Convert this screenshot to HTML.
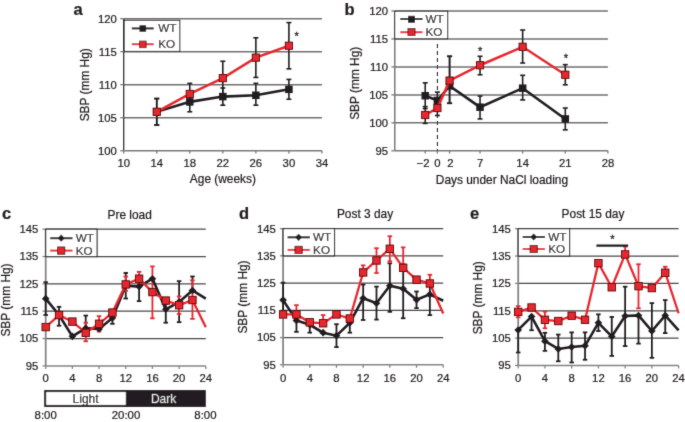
<!DOCTYPE html>
<html><head><meta charset="utf-8"><style>
html,body{margin:0;padding:0;background:#fff;}
svg{display:block;filter:none;}
text{font-family:"Liberation Sans", sans-serif;stroke:#231f20;stroke-width:0.22px;}
</style></head><body>
<svg width="685" height="422" viewBox="0 0 685 422">
<defs><filter id="bl" x="0" y="0" width="685" height="422" filterUnits="userSpaceOnUse"><feConvolveMatrix order="3" kernelMatrix="0.01134 0.08382 0.01134 0.08382 0.61935 0.08382 0.01134 0.08382 0.01134" divisor="1" edgeMode="duplicate" preserveAlpha="false"/></filter></defs>
<rect width="685" height="422" fill="#fff"/>
<g filter="url(#bl)">
<line x1="123.70" y1="117.72" x2="321.94" y2="117.72" stroke="#707070" stroke-width="1.5" />
<line x1="123.70" y1="84.70" x2="321.94" y2="84.70" stroke="#707070" stroke-width="1.5" />
<line x1="123.70" y1="51.67" x2="321.94" y2="51.67" stroke="#707070" stroke-width="1.5" />
<line x1="123.70" y1="18.65" x2="321.94" y2="18.65" stroke="#707070" stroke-width="1.5" />
<line x1="123.70" y1="18.65" x2="123.70" y2="150.75" stroke="#333333" stroke-width="1.3" />
<line x1="123.70" y1="150.75" x2="321.94" y2="150.75" stroke="#7a7a7a" stroke-width="1.3" />
<line x1="120.30" y1="150.75" x2="123.70" y2="150.75" stroke="#7a7a7a" stroke-width="1.3" />
<text x="116.80" y="154.65" font-size="11.3" text-anchor="end" fill="#231f20" font-weight="normal" >100</text>
<line x1="120.30" y1="117.72" x2="123.70" y2="117.72" stroke="#7a7a7a" stroke-width="1.3" />
<text x="116.80" y="121.62" font-size="11.3" text-anchor="end" fill="#231f20" font-weight="normal" >105</text>
<line x1="120.30" y1="84.70" x2="123.70" y2="84.70" stroke="#7a7a7a" stroke-width="1.3" />
<text x="116.80" y="88.60" font-size="11.3" text-anchor="end" fill="#231f20" font-weight="normal" >110</text>
<line x1="120.30" y1="51.67" x2="123.70" y2="51.67" stroke="#7a7a7a" stroke-width="1.3" />
<text x="116.80" y="55.57" font-size="11.3" text-anchor="end" fill="#231f20" font-weight="normal" >115</text>
<line x1="120.30" y1="18.65" x2="123.70" y2="18.65" stroke="#7a7a7a" stroke-width="1.3" />
<text x="116.80" y="22.55" font-size="11.3" text-anchor="end" fill="#231f20" font-weight="normal" >120</text>
<line x1="123.70" y1="150.75" x2="123.70" y2="153.55" stroke="#7a7a7a" stroke-width="1.3" />
<text x="123.70" y="166.80" font-size="11.3" text-anchor="middle" fill="#231f20" font-weight="normal" >10</text>
<line x1="156.74" y1="150.75" x2="156.74" y2="153.55" stroke="#7a7a7a" stroke-width="1.3" />
<text x="156.74" y="166.80" font-size="11.3" text-anchor="middle" fill="#231f20" font-weight="normal" >14</text>
<line x1="189.78" y1="150.75" x2="189.78" y2="153.55" stroke="#7a7a7a" stroke-width="1.3" />
<text x="189.78" y="166.80" font-size="11.3" text-anchor="middle" fill="#231f20" font-weight="normal" >18</text>
<line x1="222.82" y1="150.75" x2="222.82" y2="153.55" stroke="#7a7a7a" stroke-width="1.3" />
<text x="222.82" y="166.80" font-size="11.3" text-anchor="middle" fill="#231f20" font-weight="normal" >22</text>
<line x1="255.86" y1="150.75" x2="255.86" y2="153.55" stroke="#7a7a7a" stroke-width="1.3" />
<text x="255.86" y="166.80" font-size="11.3" text-anchor="middle" fill="#231f20" font-weight="normal" >26</text>
<line x1="288.90" y1="150.75" x2="288.90" y2="153.55" stroke="#7a7a7a" stroke-width="1.3" />
<text x="288.90" y="166.80" font-size="11.3" text-anchor="middle" fill="#231f20" font-weight="normal" >30</text>
<line x1="321.94" y1="150.75" x2="321.94" y2="153.55" stroke="#7a7a7a" stroke-width="1.3" />
<text x="321.94" y="166.80" font-size="11.3" text-anchor="middle" fill="#231f20" font-weight="normal" >34</text>
<rect x="124.2" y="20.3" width="55.6" height="31.1" fill="#fff" stroke="#231f20" stroke-width="1"/>
<line x1="131.80" y1="28.40" x2="153.70" y2="28.40" stroke="#231f20" stroke-width="2" />
<rect x="139.50" y="25.20" width="6.6" height="6.6" fill="#231f20" stroke="#231f20" stroke-width="0"/>
<line x1="131.80" y1="44.20" x2="153.70" y2="44.20" stroke="#e9282f" stroke-width="2" />
<rect x="139.50" y="41.10" width="6.6" height="6.6" fill="#e9282f" stroke="#4a0a0c" stroke-width="0.8"/>
<text x="158.20" y="31.90" font-size="11.7" text-anchor="start" fill="#231f20" font-weight="normal" >WT</text>
<text x="158.20" y="47.70" font-size="11.7" text-anchor="start" fill="#231f20" font-weight="normal" >KO</text>
<line x1="156.74" y1="98.57" x2="156.74" y2="124.99" stroke="#231f20" stroke-width="1.6" />
<line x1="154.24" y1="98.57" x2="159.24" y2="98.57" stroke="#231f20" stroke-width="1.6" />
<line x1="154.24" y1="124.99" x2="159.24" y2="124.99" stroke="#231f20" stroke-width="1.6" />
<line x1="189.78" y1="91.97" x2="189.78" y2="111.78" stroke="#231f20" stroke-width="1.6" />
<line x1="187.28" y1="91.97" x2="192.28" y2="91.97" stroke="#231f20" stroke-width="1.6" />
<line x1="187.28" y1="111.78" x2="192.28" y2="111.78" stroke="#231f20" stroke-width="1.6" />
<line x1="222.82" y1="88.00" x2="222.82" y2="105.18" stroke="#231f20" stroke-width="1.6" />
<line x1="220.32" y1="88.00" x2="225.32" y2="88.00" stroke="#231f20" stroke-width="1.6" />
<line x1="220.32" y1="105.18" x2="225.32" y2="105.18" stroke="#231f20" stroke-width="1.6" />
<line x1="255.86" y1="83.38" x2="255.86" y2="105.18" stroke="#231f20" stroke-width="1.6" />
<line x1="253.36" y1="83.38" x2="258.36" y2="83.38" stroke="#231f20" stroke-width="1.6" />
<line x1="253.36" y1="105.18" x2="258.36" y2="105.18" stroke="#231f20" stroke-width="1.6" />
<line x1="288.90" y1="79.42" x2="288.90" y2="99.23" stroke="#231f20" stroke-width="1.6" />
<line x1="286.40" y1="79.42" x2="291.40" y2="79.42" stroke="#231f20" stroke-width="1.6" />
<line x1="286.40" y1="99.23" x2="291.40" y2="99.23" stroke="#231f20" stroke-width="1.6" />
<line x1="156.74" y1="98.57" x2="156.74" y2="124.99" stroke="#231f20" stroke-width="1.6" />
<line x1="154.24" y1="98.57" x2="159.24" y2="98.57" stroke="#231f20" stroke-width="1.6" />
<line x1="154.24" y1="124.99" x2="159.24" y2="124.99" stroke="#231f20" stroke-width="1.6" />
<line x1="189.78" y1="83.38" x2="189.78" y2="104.52" stroke="#231f20" stroke-width="1.6" />
<line x1="187.28" y1="83.38" x2="192.28" y2="83.38" stroke="#231f20" stroke-width="1.6" />
<line x1="187.28" y1="104.52" x2="192.28" y2="104.52" stroke="#231f20" stroke-width="1.6" />
<line x1="222.82" y1="61.25" x2="222.82" y2="94.94" stroke="#231f20" stroke-width="1.6" />
<line x1="220.32" y1="61.25" x2="225.32" y2="61.25" stroke="#231f20" stroke-width="1.6" />
<line x1="220.32" y1="94.94" x2="225.32" y2="94.94" stroke="#231f20" stroke-width="1.6" />
<line x1="255.86" y1="37.80" x2="255.86" y2="77.43" stroke="#231f20" stroke-width="1.6" />
<line x1="253.36" y1="37.80" x2="258.36" y2="37.80" stroke="#231f20" stroke-width="1.6" />
<line x1="253.36" y1="77.43" x2="258.36" y2="77.43" stroke="#231f20" stroke-width="1.6" />
<line x1="288.90" y1="22.61" x2="288.90" y2="68.85" stroke="#231f20" stroke-width="1.6" />
<line x1="286.40" y1="22.61" x2="291.40" y2="22.61" stroke="#231f20" stroke-width="1.6" />
<line x1="286.40" y1="68.85" x2="291.40" y2="68.85" stroke="#231f20" stroke-width="1.6" />
<polyline points="156.74,111.78 189.78,101.87 222.82,96.59 255.86,95.27 288.90,89.32" fill="none" stroke="#231f20" stroke-width="2.6" stroke-linejoin="miter"/>
<rect x="152.99" y="108.03" width="7.5" height="7.5" fill="#231f20" stroke="#231f20" stroke-width="0"/>
<rect x="186.03" y="98.12" width="7.5" height="7.5" fill="#231f20" stroke="#231f20" stroke-width="0"/>
<rect x="219.07" y="92.84" width="7.5" height="7.5" fill="#231f20" stroke="#231f20" stroke-width="0"/>
<rect x="252.11" y="91.52" width="7.5" height="7.5" fill="#231f20" stroke="#231f20" stroke-width="0"/>
<rect x="285.15" y="85.57" width="7.5" height="7.5" fill="#231f20" stroke="#231f20" stroke-width="0"/>
<polyline points="156.74,111.78 189.78,93.95 222.82,78.09 255.86,57.62 288.90,45.73" fill="none" stroke="#e9282f" stroke-width="2.5" stroke-linejoin="miter"/>
<rect x="153.14" y="108.18" width="7.2" height="7.2" fill="#e9282f" stroke="#4a0a0c" stroke-width="0.9"/>
<rect x="186.18" y="90.35" width="7.2" height="7.2" fill="#e9282f" stroke="#4a0a0c" stroke-width="0.9"/>
<rect x="219.22" y="74.50" width="7.2" height="7.2" fill="#e9282f" stroke="#4a0a0c" stroke-width="0.9"/>
<rect x="252.26" y="54.02" width="7.2" height="7.2" fill="#e9282f" stroke="#4a0a0c" stroke-width="0.9"/>
<rect x="285.30" y="42.13" width="7.2" height="7.2" fill="#e9282f" stroke="#4a0a0c" stroke-width="0.9"/>
<text x="296.60" y="40.14" font-size="11" text-anchor="middle" fill="#231f20" font-weight="normal" style="stroke-width:0.3px">*</text>
<text x="222.90" y="183.40" font-size="11.9" text-anchor="middle" fill="#231f20" font-weight="normal" >Age (weeks)</text>
<text transform="translate(89.4 84.8) rotate(-90)" font-size="11.9" text-anchor="middle" fill="#231f20">SBP (mm Hg)</text>
<text x="73.60" y="14.60" font-size="16.5" text-anchor="start" fill="#231f20" font-weight="bold" >a</text>
<line x1="394.77" y1="122.84" x2="607.92" y2="122.84" stroke="#707070" stroke-width="1.5" />
<line x1="394.77" y1="94.88" x2="607.92" y2="94.88" stroke="#707070" stroke-width="1.5" />
<line x1="394.77" y1="66.92" x2="607.92" y2="66.92" stroke="#707070" stroke-width="1.5" />
<line x1="394.77" y1="38.96" x2="607.92" y2="38.96" stroke="#707070" stroke-width="1.5" />
<line x1="394.77" y1="11.00" x2="607.92" y2="11.00" stroke="#707070" stroke-width="1.5" />
<line x1="394.77" y1="11.00" x2="394.77" y2="150.80" stroke="#7a7a7a" stroke-width="1.5" />
<line x1="394.77" y1="150.80" x2="607.92" y2="150.80" stroke="#7a7a7a" stroke-width="1.5" />
<line x1="391.37" y1="150.80" x2="394.77" y2="150.80" stroke="#7a7a7a" stroke-width="1.3" />
<text x="388.00" y="154.70" font-size="11.3" text-anchor="end" fill="#231f20" font-weight="normal" >95</text>
<line x1="391.37" y1="122.84" x2="394.77" y2="122.84" stroke="#7a7a7a" stroke-width="1.3" />
<text x="388.00" y="126.74" font-size="11.3" text-anchor="end" fill="#231f20" font-weight="normal" >100</text>
<line x1="391.37" y1="94.88" x2="394.77" y2="94.88" stroke="#7a7a7a" stroke-width="1.3" />
<text x="388.00" y="98.78" font-size="11.3" text-anchor="end" fill="#231f20" font-weight="normal" >105</text>
<line x1="391.37" y1="66.92" x2="394.77" y2="66.92" stroke="#7a7a7a" stroke-width="1.3" />
<text x="388.00" y="70.82" font-size="11.3" text-anchor="end" fill="#231f20" font-weight="normal" >110</text>
<line x1="391.37" y1="38.96" x2="394.77" y2="38.96" stroke="#7a7a7a" stroke-width="1.3" />
<text x="388.00" y="42.86" font-size="11.3" text-anchor="end" fill="#231f20" font-weight="normal" >115</text>
<line x1="391.37" y1="11.00" x2="394.77" y2="11.00" stroke="#7a7a7a" stroke-width="1.3" />
<text x="388.00" y="14.90" font-size="11.3" text-anchor="end" fill="#231f20" font-weight="normal" >120</text>
<line x1="425.22" y1="150.80" x2="425.22" y2="153.60" stroke="#7a7a7a" stroke-width="1.3" />
<text x="423.02" y="166.80" font-size="11.3" text-anchor="middle" fill="#231f20" font-weight="normal" >&#8722;2</text>
<line x1="437.40" y1="150.80" x2="437.40" y2="153.60" stroke="#7a7a7a" stroke-width="1.3" />
<text x="437.40" y="166.80" font-size="11.3" text-anchor="middle" fill="#231f20" font-weight="normal" >0</text>
<line x1="449.58" y1="150.80" x2="449.58" y2="153.60" stroke="#7a7a7a" stroke-width="1.3" />
<text x="450.38" y="166.80" font-size="11.3" text-anchor="middle" fill="#231f20" font-weight="normal" >2</text>
<line x1="480.03" y1="150.80" x2="480.03" y2="153.60" stroke="#7a7a7a" stroke-width="1.3" />
<text x="480.03" y="166.80" font-size="11.3" text-anchor="middle" fill="#231f20" font-weight="normal" >7</text>
<line x1="522.66" y1="150.80" x2="522.66" y2="153.60" stroke="#7a7a7a" stroke-width="1.3" />
<text x="522.66" y="166.80" font-size="11.3" text-anchor="middle" fill="#231f20" font-weight="normal" >14</text>
<line x1="565.29" y1="150.80" x2="565.29" y2="153.60" stroke="#7a7a7a" stroke-width="1.3" />
<text x="565.29" y="166.80" font-size="11.3" text-anchor="middle" fill="#231f20" font-weight="normal" >21</text>
<line x1="607.92" y1="150.80" x2="607.92" y2="153.60" stroke="#7a7a7a" stroke-width="1.3" />
<text x="607.92" y="166.80" font-size="11.3" text-anchor="middle" fill="#231f20" font-weight="normal" >28</text>
<line x1="437.40" y1="44.00" x2="437.40" y2="150.80" stroke="#231f20" stroke-width="1" stroke-dasharray="4 3"/>
<rect x="394.7" y="11.2" width="53.0" height="27.6" fill="#fff" stroke="#231f20" stroke-width="1"/>
<line x1="400.30" y1="19.00" x2="422.50" y2="19.00" stroke="#231f20" stroke-width="2" />
<rect x="408.00" y="15.80" width="7.0" height="7.0" fill="#231f20" stroke="#231f20" stroke-width="0"/>
<line x1="400.30" y1="32.20" x2="422.50" y2="32.20" stroke="#e9282f" stroke-width="2" />
<rect x="408.00" y="28.50" width="7.0" height="7.0" fill="#e9282f" stroke="#4a0a0c" stroke-width="0.9"/>
<text x="425.50" y="22.80" font-size="11.7" text-anchor="start" fill="#231f20" font-weight="normal" >WT</text>
<text x="425.50" y="36.20" font-size="11.7" text-anchor="start" fill="#231f20" font-weight="normal" >KO</text>
<line x1="425.22" y1="82.86" x2="425.22" y2="108.58" stroke="#231f20" stroke-width="1.6" />
<line x1="422.72" y1="82.86" x2="427.72" y2="82.86" stroke="#231f20" stroke-width="1.6" />
<line x1="422.72" y1="108.58" x2="427.72" y2="108.58" stroke="#231f20" stroke-width="1.6" />
<line x1="437.40" y1="92.08" x2="437.40" y2="108.86" stroke="#231f20" stroke-width="1.6" />
<line x1="434.90" y1="92.08" x2="439.90" y2="92.08" stroke="#231f20" stroke-width="1.6" />
<line x1="434.90" y1="108.86" x2="439.90" y2="108.86" stroke="#231f20" stroke-width="1.6" />
<line x1="449.58" y1="56.30" x2="449.58" y2="103.27" stroke="#231f20" stroke-width="1.6" />
<line x1="447.08" y1="56.30" x2="452.08" y2="56.30" stroke="#231f20" stroke-width="1.6" />
<line x1="447.08" y1="103.27" x2="452.08" y2="103.27" stroke="#231f20" stroke-width="1.6" />
<line x1="480.03" y1="96.00" x2="480.03" y2="118.93" stroke="#231f20" stroke-width="1.6" />
<line x1="477.53" y1="96.00" x2="482.53" y2="96.00" stroke="#231f20" stroke-width="1.6" />
<line x1="477.53" y1="118.93" x2="482.53" y2="118.93" stroke="#231f20" stroke-width="1.6" />
<line x1="522.66" y1="75.31" x2="522.66" y2="99.91" stroke="#231f20" stroke-width="1.6" />
<line x1="520.16" y1="75.31" x2="525.16" y2="75.31" stroke="#231f20" stroke-width="1.6" />
<line x1="520.16" y1="99.91" x2="525.16" y2="99.91" stroke="#231f20" stroke-width="1.6" />
<line x1="565.29" y1="108.02" x2="565.29" y2="129.83" stroke="#231f20" stroke-width="1.6" />
<line x1="562.79" y1="108.02" x2="567.79" y2="108.02" stroke="#231f20" stroke-width="1.6" />
<line x1="562.79" y1="129.83" x2="567.79" y2="129.83" stroke="#231f20" stroke-width="1.6" />
<line x1="425.22" y1="106.62" x2="425.22" y2="123.40" stroke="#231f20" stroke-width="1.6" />
<line x1="422.72" y1="106.62" x2="427.72" y2="106.62" stroke="#231f20" stroke-width="1.6" />
<line x1="422.72" y1="123.40" x2="427.72" y2="123.40" stroke="#231f20" stroke-width="1.6" />
<line x1="437.40" y1="100.19" x2="437.40" y2="115.51" stroke="#231f20" stroke-width="1.6" />
<line x1="434.90" y1="100.19" x2="439.90" y2="100.19" stroke="#231f20" stroke-width="1.6" />
<line x1="434.90" y1="115.51" x2="439.90" y2="115.51" stroke="#231f20" stroke-width="1.6" />
<line x1="449.58" y1="56.30" x2="449.58" y2="103.27" stroke="#231f20" stroke-width="1.6" />
<line x1="447.08" y1="56.30" x2="452.08" y2="56.30" stroke="#231f20" stroke-width="1.6" />
<line x1="447.08" y1="103.27" x2="452.08" y2="103.27" stroke="#231f20" stroke-width="1.6" />
<line x1="480.03" y1="56.30" x2="480.03" y2="74.75" stroke="#231f20" stroke-width="1.6" />
<line x1="477.53" y1="56.30" x2="482.53" y2="56.30" stroke="#231f20" stroke-width="1.6" />
<line x1="477.53" y1="74.75" x2="482.53" y2="74.75" stroke="#231f20" stroke-width="1.6" />
<line x1="522.66" y1="30.01" x2="522.66" y2="63.01" stroke="#231f20" stroke-width="1.6" />
<line x1="520.16" y1="30.01" x2="525.16" y2="30.01" stroke="#231f20" stroke-width="1.6" />
<line x1="520.16" y1="63.01" x2="525.16" y2="63.01" stroke="#231f20" stroke-width="1.6" />
<line x1="565.29" y1="64.68" x2="565.29" y2="84.81" stroke="#231f20" stroke-width="1.6" />
<line x1="562.79" y1="64.68" x2="567.79" y2="64.68" stroke="#231f20" stroke-width="1.6" />
<line x1="562.79" y1="84.81" x2="567.79" y2="84.81" stroke="#231f20" stroke-width="1.6" />
<polyline points="425.22,95.72 437.40,100.47 449.58,85.93 480.03,107.18 522.66,88.17 565.29,118.93" fill="none" stroke="#231f20" stroke-width="2.6" stroke-linejoin="miter"/>
<rect x="421.47" y="91.97" width="7.5" height="7.5" fill="#231f20" stroke="#231f20" stroke-width="0"/>
<rect x="433.65" y="96.72" width="7.5" height="7.5" fill="#231f20" stroke="#231f20" stroke-width="0"/>
<rect x="445.83" y="82.18" width="7.5" height="7.5" fill="#231f20" stroke="#231f20" stroke-width="0"/>
<rect x="476.28" y="103.43" width="7.5" height="7.5" fill="#231f20" stroke="#231f20" stroke-width="0"/>
<rect x="518.91" y="84.42" width="7.5" height="7.5" fill="#231f20" stroke="#231f20" stroke-width="0"/>
<rect x="561.54" y="115.18" width="7.5" height="7.5" fill="#231f20" stroke="#231f20" stroke-width="0"/>
<polyline points="425.22,115.01 437.40,108.02 449.58,80.62 480.03,65.24 522.66,46.79 565.29,74.75" fill="none" stroke="#e9282f" stroke-width="2.5" stroke-linejoin="miter"/>
<rect x="421.62" y="111.41" width="7.2" height="7.2" fill="#e9282f" stroke="#4a0a0c" stroke-width="0.9"/>
<rect x="433.80" y="104.42" width="7.2" height="7.2" fill="#e9282f" stroke="#4a0a0c" stroke-width="0.9"/>
<rect x="445.98" y="77.02" width="7.2" height="7.2" fill="#e9282f" stroke="#4a0a0c" stroke-width="0.9"/>
<rect x="476.43" y="61.64" width="7.2" height="7.2" fill="#e9282f" stroke="#4a0a0c" stroke-width="0.9"/>
<rect x="519.06" y="43.19" width="7.2" height="7.2" fill="#e9282f" stroke="#4a0a0c" stroke-width="0.9"/>
<rect x="561.69" y="71.15" width="7.2" height="7.2" fill="#e9282f" stroke="#4a0a0c" stroke-width="0.9"/>
<text x="480.20" y="54.64" font-size="11" text-anchor="middle" fill="#231f20" font-weight="normal" style="stroke-width:0.3px">*</text>
<text x="565.90" y="61.54" font-size="11" text-anchor="middle" fill="#231f20" font-weight="normal" style="stroke-width:0.3px">*</text>
<text x="501.94" y="183.50" font-size="11.9" text-anchor="middle" fill="#231f20" font-weight="normal" >Days under NaCl loading</text>
<text transform="translate(358.6 83.3) rotate(-90)" font-size="11.9" text-anchor="middle" fill="#231f20">SBP (mm Hg)</text>
<text x="344.60" y="14.60" font-size="16.5" text-anchor="start" fill="#231f20" font-weight="bold" >b</text>
<line x1="45.70" y1="338.56" x2="205.80" y2="338.56" stroke="#4a4a4a" stroke-width="1.2" />
<line x1="45.70" y1="311.22" x2="205.80" y2="311.22" stroke="#4a4a4a" stroke-width="1.2" />
<line x1="45.70" y1="283.88" x2="205.80" y2="283.88" stroke="#4a4a4a" stroke-width="1.2" />
<line x1="45.70" y1="256.54" x2="205.80" y2="256.54" stroke="#4a4a4a" stroke-width="1.2" />
<line x1="45.70" y1="229.20" x2="205.80" y2="229.20" stroke="#4a4a4a" stroke-width="1.2" />
<line x1="45.70" y1="229.20" x2="45.70" y2="365.90" stroke="#858585" stroke-width="1.8" />
<line x1="45.70" y1="365.90" x2="205.80" y2="365.90" stroke="#858585" stroke-width="1.5" />
<line x1="42.50" y1="365.90" x2="45.70" y2="365.90" stroke="#858585" stroke-width="1.3" />
<text x="38.40" y="369.80" font-size="11.3" text-anchor="end" fill="#231f20" font-weight="normal" >95</text>
<line x1="42.50" y1="338.56" x2="45.70" y2="338.56" stroke="#858585" stroke-width="1.3" />
<text x="38.40" y="342.46" font-size="11.3" text-anchor="end" fill="#231f20" font-weight="normal" >105</text>
<line x1="42.50" y1="311.22" x2="45.70" y2="311.22" stroke="#858585" stroke-width="1.3" />
<text x="38.40" y="315.12" font-size="11.3" text-anchor="end" fill="#231f20" font-weight="normal" >115</text>
<line x1="42.50" y1="283.88" x2="45.70" y2="283.88" stroke="#858585" stroke-width="1.3" />
<text x="38.40" y="287.78" font-size="11.3" text-anchor="end" fill="#231f20" font-weight="normal" >125</text>
<line x1="42.50" y1="256.54" x2="45.70" y2="256.54" stroke="#858585" stroke-width="1.3" />
<text x="38.40" y="260.44" font-size="11.3" text-anchor="end" fill="#231f20" font-weight="normal" >135</text>
<line x1="42.50" y1="229.20" x2="45.70" y2="229.20" stroke="#858585" stroke-width="1.3" />
<text x="38.40" y="233.10" font-size="11.3" text-anchor="end" fill="#231f20" font-weight="normal" >145</text>
<line x1="45.70" y1="365.90" x2="45.70" y2="368.90" stroke="#858585" stroke-width="1.3" />
<text x="45.70" y="381.50" font-size="11.3" text-anchor="middle" fill="#231f20" font-weight="normal" >0</text>
<line x1="72.38" y1="365.90" x2="72.38" y2="368.90" stroke="#858585" stroke-width="1.3" />
<text x="72.38" y="381.50" font-size="11.3" text-anchor="middle" fill="#231f20" font-weight="normal" >4</text>
<line x1="99.07" y1="365.90" x2="99.07" y2="368.90" stroke="#858585" stroke-width="1.3" />
<text x="99.07" y="381.50" font-size="11.3" text-anchor="middle" fill="#231f20" font-weight="normal" >8</text>
<line x1="125.75" y1="365.90" x2="125.75" y2="368.90" stroke="#858585" stroke-width="1.3" />
<text x="125.75" y="381.50" font-size="11.3" text-anchor="middle" fill="#231f20" font-weight="normal" >12</text>
<line x1="152.43" y1="365.90" x2="152.43" y2="368.90" stroke="#858585" stroke-width="1.3" />
<text x="152.43" y="381.50" font-size="11.3" text-anchor="middle" fill="#231f20" font-weight="normal" >16</text>
<line x1="179.12" y1="365.90" x2="179.12" y2="368.90" stroke="#858585" stroke-width="1.3" />
<text x="179.12" y="381.50" font-size="11.3" text-anchor="middle" fill="#231f20" font-weight="normal" >20</text>
<line x1="205.80" y1="365.90" x2="205.80" y2="368.90" stroke="#858585" stroke-width="1.3" />
<text x="205.80" y="381.50" font-size="11.3" text-anchor="middle" fill="#231f20" font-weight="normal" >24</text>
<rect x="45.70" y="229.20" width="51.4" height="27.34" fill="#fff" stroke="#231f20" stroke-width="1.1"/>
<line x1="50.20" y1="238.20" x2="72.50" y2="238.20" stroke="#231f20" stroke-width="2" />
<path d="M57.60 238.20L61.20 234.60L64.80 238.20L61.20 241.80Z" fill="#231f20"/>
<line x1="50.20" y1="250.60" x2="72.50" y2="250.60" stroke="#e9282f" stroke-width="2" />
<rect x="57.60" y="247.00" width="7.2" height="7.2" fill="#e9282f" stroke="#4a0a0c" stroke-width="0.9"/>
<text x="75.70" y="242.20" font-size="11.7" text-anchor="start" fill="#231f20" font-weight="normal" >WT</text>
<text x="75.70" y="254.50" font-size="11.7" text-anchor="start" fill="#231f20" font-weight="normal" >KO</text>
<line x1="45.70" y1="282.24" x2="45.70" y2="315.05" stroke="#231f20" stroke-width="1.8" />
<line x1="43.45" y1="282.24" x2="47.95" y2="282.24" stroke="#231f20" stroke-width="1.8" />
<line x1="43.45" y1="315.05" x2="47.95" y2="315.05" stroke="#231f20" stroke-width="1.8" />
<line x1="59.04" y1="306.85" x2="59.04" y2="325.71" stroke="#231f20" stroke-width="1.8" />
<line x1="56.79" y1="306.85" x2="61.29" y2="306.85" stroke="#231f20" stroke-width="1.8" />
<line x1="56.79" y1="325.71" x2="61.29" y2="325.71" stroke="#231f20" stroke-width="1.8" />
<line x1="85.73" y1="315.59" x2="85.73" y2="328.17" stroke="#231f20" stroke-width="1.8" />
<line x1="83.48" y1="315.59" x2="87.98" y2="315.59" stroke="#231f20" stroke-width="1.8" />
<line x1="83.48" y1="328.17" x2="87.98" y2="328.17" stroke="#231f20" stroke-width="1.8" />
<line x1="112.41" y1="318.05" x2="112.41" y2="323.80" stroke="#231f20" stroke-width="1.8" />
<line x1="110.16" y1="318.05" x2="114.66" y2="318.05" stroke="#231f20" stroke-width="1.8" />
<line x1="110.16" y1="323.80" x2="114.66" y2="323.80" stroke="#231f20" stroke-width="1.8" />
<line x1="125.75" y1="272.94" x2="125.75" y2="298.51" stroke="#231f20" stroke-width="1.8" />
<line x1="123.50" y1="272.94" x2="128.00" y2="272.94" stroke="#231f20" stroke-width="1.8" />
<line x1="123.50" y1="298.51" x2="128.00" y2="298.51" stroke="#231f20" stroke-width="1.8" />
<line x1="139.09" y1="278.41" x2="139.09" y2="301.10" stroke="#231f20" stroke-width="1.8" />
<line x1="136.84" y1="278.41" x2="141.34" y2="278.41" stroke="#231f20" stroke-width="1.8" />
<line x1="136.84" y1="301.10" x2="141.34" y2="301.10" stroke="#231f20" stroke-width="1.8" />
<line x1="165.78" y1="303.84" x2="165.78" y2="322.70" stroke="#231f20" stroke-width="1.8" />
<line x1="163.53" y1="303.84" x2="168.03" y2="303.84" stroke="#231f20" stroke-width="1.8" />
<line x1="163.53" y1="322.70" x2="168.03" y2="322.70" stroke="#231f20" stroke-width="1.8" />
<line x1="179.12" y1="281.15" x2="179.12" y2="322.16" stroke="#231f20" stroke-width="1.8" />
<line x1="176.87" y1="281.15" x2="181.37" y2="281.15" stroke="#231f20" stroke-width="1.8" />
<line x1="176.87" y1="322.16" x2="181.37" y2="322.16" stroke="#231f20" stroke-width="1.8" />
<line x1="192.46" y1="276.50" x2="192.46" y2="290.44" stroke="#231f20" stroke-width="1.8" />
<line x1="190.21" y1="276.50" x2="194.71" y2="276.50" stroke="#231f20" stroke-width="1.8" />
<line x1="190.21" y1="290.44" x2="194.71" y2="290.44" stroke="#231f20" stroke-width="1.8" />
<line x1="85.73" y1="322.70" x2="85.73" y2="341.29" stroke="#e9282f" stroke-width="1.8" />
<line x1="83.48" y1="322.70" x2="87.98" y2="322.70" stroke="#e9282f" stroke-width="1.8" />
<line x1="83.48" y1="341.29" x2="87.98" y2="341.29" stroke="#e9282f" stroke-width="1.8" />
<line x1="99.07" y1="316.14" x2="99.07" y2="331.45" stroke="#e9282f" stroke-width="1.8" />
<line x1="96.82" y1="316.14" x2="101.32" y2="316.14" stroke="#e9282f" stroke-width="1.8" />
<line x1="96.82" y1="331.45" x2="101.32" y2="331.45" stroke="#e9282f" stroke-width="1.8" />
<line x1="125.75" y1="276.50" x2="125.75" y2="290.71" stroke="#e9282f" stroke-width="1.8" />
<line x1="123.50" y1="276.50" x2="128.00" y2="276.50" stroke="#e9282f" stroke-width="1.8" />
<line x1="123.50" y1="290.71" x2="128.00" y2="290.71" stroke="#e9282f" stroke-width="1.8" />
<line x1="139.09" y1="271.85" x2="139.09" y2="284.15" stroke="#e9282f" stroke-width="1.8" />
<line x1="136.84" y1="271.85" x2="141.34" y2="271.85" stroke="#e9282f" stroke-width="1.8" />
<line x1="136.84" y1="284.15" x2="141.34" y2="284.15" stroke="#e9282f" stroke-width="1.8" />
<line x1="152.43" y1="266.38" x2="152.43" y2="318.33" stroke="#e9282f" stroke-width="1.8" />
<line x1="150.18" y1="266.38" x2="154.68" y2="266.38" stroke="#e9282f" stroke-width="1.8" />
<line x1="150.18" y1="318.33" x2="154.68" y2="318.33" stroke="#e9282f" stroke-width="1.8" />
<line x1="179.12" y1="296.46" x2="179.12" y2="313.95" stroke="#e9282f" stroke-width="1.8" />
<line x1="176.87" y1="296.46" x2="181.37" y2="296.46" stroke="#e9282f" stroke-width="1.8" />
<line x1="176.87" y1="313.95" x2="181.37" y2="313.95" stroke="#e9282f" stroke-width="1.8" />
<line x1="192.46" y1="280.33" x2="192.46" y2="318.88" stroke="#e9282f" stroke-width="1.8" />
<line x1="190.21" y1="280.33" x2="194.71" y2="280.33" stroke="#e9282f" stroke-width="1.8" />
<line x1="190.21" y1="318.88" x2="194.71" y2="318.88" stroke="#e9282f" stroke-width="1.8" />
<polyline points="45.70,298.64 59.04,315.05 72.38,336.37 85.73,328.17 99.07,328.99 112.41,318.05 125.75,285.79 139.09,286.61 152.43,278.69 165.78,309.31 179.12,301.92 192.46,290.44 205.80,298.64" fill="none" stroke="#231f20" stroke-width="2.6" stroke-linejoin="miter"/>
<path d="M41.90 298.64L45.70 294.84L49.50 298.64L45.70 302.44Z" fill="#231f20"/>
<path d="M55.24 315.05L59.04 311.25L62.84 315.05L59.04 318.85Z" fill="#231f20"/>
<path d="M68.58 336.37L72.38 332.57L76.18 336.37L72.38 340.17Z" fill="#231f20"/>
<path d="M81.93 328.17L85.73 324.37L89.53 328.17L85.73 331.97Z" fill="#231f20"/>
<path d="M95.27 328.99L99.07 325.19L102.87 328.99L99.07 332.79Z" fill="#231f20"/>
<path d="M108.61 318.05L112.41 314.25L116.21 318.05L112.41 321.85Z" fill="#231f20"/>
<path d="M121.95 285.79L125.75 281.99L129.55 285.79L125.75 289.59Z" fill="#231f20"/>
<path d="M135.29 286.61L139.09 282.81L142.89 286.61L139.09 290.41Z" fill="#231f20"/>
<path d="M148.63 278.69L152.43 274.89L156.23 278.69L152.43 282.49Z" fill="#231f20"/>
<path d="M161.97 309.31L165.78 305.51L169.58 309.31L165.78 313.11Z" fill="#231f20"/>
<path d="M175.32 301.92L179.12 298.12L182.92 301.92L179.12 305.72Z" fill="#231f20"/>
<path d="M188.66 290.44L192.46 286.64L196.26 290.44L192.46 294.24Z" fill="#231f20"/>
<polyline points="45.70,327.08 59.04,315.05 72.38,321.61 85.73,332.82 99.07,323.80 112.41,312.59 125.75,284.43 139.09,278.69 152.43,292.08 165.78,300.56 179.12,305.21 192.46,300.01 205.80,327.35" fill="none" stroke="#e9282f" stroke-width="2.3" stroke-linejoin="miter"/>
<rect x="42.00" y="323.38" width="7.4" height="7.4" fill="#e9282f" stroke="#4a0a0c" stroke-width="0.9"/>
<rect x="55.34" y="311.35" width="7.4" height="7.4" fill="#e9282f" stroke="#4a0a0c" stroke-width="0.9"/>
<rect x="68.68" y="317.91" width="7.4" height="7.4" fill="#e9282f" stroke="#4a0a0c" stroke-width="0.9"/>
<rect x="82.03" y="329.12" width="7.4" height="7.4" fill="#e9282f" stroke="#4a0a0c" stroke-width="0.9"/>
<rect x="95.37" y="320.10" width="7.4" height="7.4" fill="#e9282f" stroke="#4a0a0c" stroke-width="0.9"/>
<rect x="108.71" y="308.89" width="7.4" height="7.4" fill="#e9282f" stroke="#4a0a0c" stroke-width="0.9"/>
<rect x="122.05" y="280.73" width="7.4" height="7.4" fill="#e9282f" stroke="#4a0a0c" stroke-width="0.9"/>
<rect x="135.39" y="274.99" width="7.4" height="7.4" fill="#e9282f" stroke="#4a0a0c" stroke-width="0.9"/>
<rect x="148.73" y="288.38" width="7.4" height="7.4" fill="#e9282f" stroke="#4a0a0c" stroke-width="0.9"/>
<rect x="162.08" y="296.86" width="7.4" height="7.4" fill="#e9282f" stroke="#4a0a0c" stroke-width="0.9"/>
<rect x="175.42" y="301.51" width="7.4" height="7.4" fill="#e9282f" stroke="#4a0a0c" stroke-width="0.9"/>
<rect x="188.76" y="296.31" width="7.4" height="7.4" fill="#e9282f" stroke="#4a0a0c" stroke-width="0.9"/>
<text x="129.70" y="219.00" font-size="11.9" text-anchor="middle" fill="#231f20" font-weight="normal" >Pre load</text>
<text transform="translate(9.70 300.00) rotate(-90)" font-size="11.9" text-anchor="middle" fill="#231f20">SBP (mm Hg)</text>
<text x="2.00" y="218.60" font-size="16.5" text-anchor="start" fill="#231f20" font-weight="bold" >c</text>
<line x1="283.10" y1="337.56" x2="443.20" y2="337.56" stroke="#4a4a4a" stroke-width="1.2" />
<line x1="283.10" y1="310.32" x2="443.20" y2="310.32" stroke="#4a4a4a" stroke-width="1.2" />
<line x1="283.10" y1="283.08" x2="443.20" y2="283.08" stroke="#4a4a4a" stroke-width="1.2" />
<line x1="283.10" y1="255.84" x2="443.20" y2="255.84" stroke="#4a4a4a" stroke-width="1.2" />
<line x1="283.10" y1="228.60" x2="443.20" y2="228.60" stroke="#4a4a4a" stroke-width="1.2" />
<line x1="283.10" y1="228.60" x2="283.10" y2="364.80" stroke="#858585" stroke-width="1.8" />
<line x1="283.10" y1="364.80" x2="443.20" y2="364.80" stroke="#858585" stroke-width="1.5" />
<line x1="279.90" y1="364.80" x2="283.10" y2="364.80" stroke="#858585" stroke-width="1.3" />
<text x="275.80" y="368.70" font-size="11.3" text-anchor="end" fill="#231f20" font-weight="normal" >95</text>
<line x1="279.90" y1="337.56" x2="283.10" y2="337.56" stroke="#858585" stroke-width="1.3" />
<text x="275.80" y="341.46" font-size="11.3" text-anchor="end" fill="#231f20" font-weight="normal" >105</text>
<line x1="279.90" y1="310.32" x2="283.10" y2="310.32" stroke="#858585" stroke-width="1.3" />
<text x="275.80" y="314.22" font-size="11.3" text-anchor="end" fill="#231f20" font-weight="normal" >115</text>
<line x1="279.90" y1="283.08" x2="283.10" y2="283.08" stroke="#858585" stroke-width="1.3" />
<text x="275.80" y="286.98" font-size="11.3" text-anchor="end" fill="#231f20" font-weight="normal" >125</text>
<line x1="279.90" y1="255.84" x2="283.10" y2="255.84" stroke="#858585" stroke-width="1.3" />
<text x="275.80" y="259.74" font-size="11.3" text-anchor="end" fill="#231f20" font-weight="normal" >135</text>
<line x1="279.90" y1="228.60" x2="283.10" y2="228.60" stroke="#858585" stroke-width="1.3" />
<text x="275.80" y="232.50" font-size="11.3" text-anchor="end" fill="#231f20" font-weight="normal" >145</text>
<line x1="283.10" y1="364.80" x2="283.10" y2="367.80" stroke="#858585" stroke-width="1.3" />
<text x="283.10" y="381.50" font-size="11.3" text-anchor="middle" fill="#231f20" font-weight="normal" >0</text>
<line x1="309.78" y1="364.80" x2="309.78" y2="367.80" stroke="#858585" stroke-width="1.3" />
<text x="309.78" y="381.50" font-size="11.3" text-anchor="middle" fill="#231f20" font-weight="normal" >4</text>
<line x1="336.47" y1="364.80" x2="336.47" y2="367.80" stroke="#858585" stroke-width="1.3" />
<text x="336.47" y="381.50" font-size="11.3" text-anchor="middle" fill="#231f20" font-weight="normal" >8</text>
<line x1="363.15" y1="364.80" x2="363.15" y2="367.80" stroke="#858585" stroke-width="1.3" />
<text x="363.15" y="381.50" font-size="11.3" text-anchor="middle" fill="#231f20" font-weight="normal" >12</text>
<line x1="389.83" y1="364.80" x2="389.83" y2="367.80" stroke="#858585" stroke-width="1.3" />
<text x="389.83" y="381.50" font-size="11.3" text-anchor="middle" fill="#231f20" font-weight="normal" >16</text>
<line x1="416.52" y1="364.80" x2="416.52" y2="367.80" stroke="#858585" stroke-width="1.3" />
<text x="416.52" y="381.50" font-size="11.3" text-anchor="middle" fill="#231f20" font-weight="normal" >20</text>
<line x1="443.20" y1="364.80" x2="443.20" y2="367.80" stroke="#858585" stroke-width="1.3" />
<text x="443.20" y="381.50" font-size="11.3" text-anchor="middle" fill="#231f20" font-weight="normal" >24</text>
<rect x="283.10" y="228.60" width="51.4" height="27.24" fill="#fff" stroke="#231f20" stroke-width="1.1"/>
<line x1="287.60" y1="237.30" x2="309.90" y2="237.30" stroke="#231f20" stroke-width="2" />
<path d="M295.00 237.30L298.60 233.70L302.20 237.30L298.60 240.90Z" fill="#231f20"/>
<line x1="287.60" y1="249.90" x2="309.90" y2="249.90" stroke="#e9282f" stroke-width="2" />
<rect x="295.00" y="246.30" width="7.2" height="7.2" fill="#e9282f" stroke="#4a0a0c" stroke-width="0.9"/>
<text x="313.10" y="241.30" font-size="11.7" text-anchor="start" fill="#231f20" font-weight="normal" >WT</text>
<text x="313.10" y="253.80" font-size="11.7" text-anchor="start" fill="#231f20" font-weight="normal" >KO</text>
<line x1="283.10" y1="282.67" x2="283.10" y2="311.00" stroke="#231f20" stroke-width="1.8" />
<line x1="280.85" y1="282.67" x2="285.35" y2="282.67" stroke="#231f20" stroke-width="1.8" />
<line x1="280.85" y1="311.00" x2="285.35" y2="311.00" stroke="#231f20" stroke-width="1.8" />
<line x1="296.44" y1="320.40" x2="296.44" y2="331.84" stroke="#231f20" stroke-width="1.8" />
<line x1="294.19" y1="320.40" x2="298.69" y2="320.40" stroke="#231f20" stroke-width="1.8" />
<line x1="294.19" y1="331.84" x2="298.69" y2="331.84" stroke="#231f20" stroke-width="1.8" />
<line x1="309.78" y1="324.76" x2="309.78" y2="332.66" stroke="#231f20" stroke-width="1.8" />
<line x1="307.53" y1="324.76" x2="312.03" y2="324.76" stroke="#231f20" stroke-width="1.8" />
<line x1="307.53" y1="332.66" x2="312.03" y2="332.66" stroke="#231f20" stroke-width="1.8" />
<line x1="336.47" y1="324.21" x2="336.47" y2="347.09" stroke="#231f20" stroke-width="1.8" />
<line x1="334.22" y1="324.21" x2="338.72" y2="324.21" stroke="#231f20" stroke-width="1.8" />
<line x1="334.22" y1="347.09" x2="338.72" y2="347.09" stroke="#231f20" stroke-width="1.8" />
<line x1="349.81" y1="322.85" x2="349.81" y2="332.66" stroke="#231f20" stroke-width="1.8" />
<line x1="347.56" y1="322.85" x2="352.06" y2="322.85" stroke="#231f20" stroke-width="1.8" />
<line x1="347.56" y1="332.66" x2="352.06" y2="332.66" stroke="#231f20" stroke-width="1.8" />
<line x1="363.15" y1="284.58" x2="363.15" y2="319.99" stroke="#231f20" stroke-width="1.8" />
<line x1="360.90" y1="284.58" x2="365.40" y2="284.58" stroke="#231f20" stroke-width="1.8" />
<line x1="360.90" y1="319.99" x2="365.40" y2="319.99" stroke="#231f20" stroke-width="1.8" />
<line x1="376.49" y1="286.62" x2="376.49" y2="319.58" stroke="#231f20" stroke-width="1.8" />
<line x1="374.24" y1="286.62" x2="378.74" y2="286.62" stroke="#231f20" stroke-width="1.8" />
<line x1="374.24" y1="319.58" x2="378.74" y2="319.58" stroke="#231f20" stroke-width="1.8" />
<line x1="389.83" y1="263.33" x2="389.83" y2="311.82" stroke="#231f20" stroke-width="1.8" />
<line x1="387.58" y1="263.33" x2="392.08" y2="263.33" stroke="#231f20" stroke-width="1.8" />
<line x1="387.58" y1="311.82" x2="392.08" y2="311.82" stroke="#231f20" stroke-width="1.8" />
<line x1="403.18" y1="264.28" x2="403.18" y2="318.22" stroke="#231f20" stroke-width="1.8" />
<line x1="400.93" y1="264.28" x2="405.43" y2="264.28" stroke="#231f20" stroke-width="1.8" />
<line x1="400.93" y1="318.22" x2="405.43" y2="318.22" stroke="#231f20" stroke-width="1.8" />
<line x1="416.52" y1="291.52" x2="416.52" y2="308.14" stroke="#231f20" stroke-width="1.8" />
<line x1="414.27" y1="291.52" x2="418.77" y2="291.52" stroke="#231f20" stroke-width="1.8" />
<line x1="414.27" y1="308.14" x2="418.77" y2="308.14" stroke="#231f20" stroke-width="1.8" />
<line x1="429.86" y1="280.76" x2="429.86" y2="315.09" stroke="#231f20" stroke-width="1.8" />
<line x1="427.61" y1="280.76" x2="432.11" y2="280.76" stroke="#231f20" stroke-width="1.8" />
<line x1="427.61" y1="315.09" x2="432.11" y2="315.09" stroke="#231f20" stroke-width="1.8" />
<line x1="296.44" y1="305.14" x2="296.44" y2="314.41" stroke="#e9282f" stroke-width="1.8" />
<line x1="294.19" y1="305.14" x2="298.69" y2="305.14" stroke="#e9282f" stroke-width="1.8" />
<line x1="294.19" y1="314.41" x2="298.69" y2="314.41" stroke="#e9282f" stroke-width="1.8" />
<line x1="323.12" y1="315.09" x2="323.12" y2="323.26" stroke="#e9282f" stroke-width="1.8" />
<line x1="320.88" y1="315.09" x2="325.38" y2="315.09" stroke="#e9282f" stroke-width="1.8" />
<line x1="320.88" y1="323.26" x2="325.38" y2="323.26" stroke="#e9282f" stroke-width="1.8" />
<line x1="363.15" y1="265.37" x2="363.15" y2="272.46" stroke="#e9282f" stroke-width="1.8" />
<line x1="360.90" y1="265.37" x2="365.40" y2="265.37" stroke="#e9282f" stroke-width="1.8" />
<line x1="360.90" y1="272.46" x2="365.40" y2="272.46" stroke="#e9282f" stroke-width="1.8" />
<line x1="376.49" y1="248.21" x2="376.49" y2="273.00" stroke="#e9282f" stroke-width="1.8" />
<line x1="374.24" y1="248.21" x2="378.74" y2="248.21" stroke="#e9282f" stroke-width="1.8" />
<line x1="374.24" y1="273.00" x2="378.74" y2="273.00" stroke="#e9282f" stroke-width="1.8" />
<line x1="389.83" y1="236.23" x2="389.83" y2="261.29" stroke="#e9282f" stroke-width="1.8" />
<line x1="387.58" y1="236.23" x2="392.08" y2="236.23" stroke="#e9282f" stroke-width="1.8" />
<line x1="387.58" y1="261.29" x2="392.08" y2="261.29" stroke="#e9282f" stroke-width="1.8" />
<line x1="403.18" y1="247.40" x2="403.18" y2="267.83" stroke="#e9282f" stroke-width="1.8" />
<line x1="400.93" y1="247.40" x2="405.43" y2="247.40" stroke="#e9282f" stroke-width="1.8" />
<line x1="400.93" y1="267.83" x2="405.43" y2="267.83" stroke="#e9282f" stroke-width="1.8" />
<line x1="429.86" y1="274.77" x2="429.86" y2="283.49" stroke="#e9282f" stroke-width="1.8" />
<line x1="427.61" y1="274.77" x2="432.11" y2="274.77" stroke="#e9282f" stroke-width="1.8" />
<line x1="427.61" y1="283.49" x2="432.11" y2="283.49" stroke="#e9282f" stroke-width="1.8" />
<polyline points="283.10,300.11 296.44,320.40 309.78,324.76 323.12,332.66 336.47,335.65 349.81,322.85 363.15,298.20 376.49,303.24 389.83,285.67 403.18,288.80 416.52,299.70 429.86,294.38 443.20,300.79" fill="none" stroke="#231f20" stroke-width="2.6" stroke-linejoin="miter"/>
<path d="M279.30 300.11L283.10 296.31L286.90 300.11L283.10 303.91Z" fill="#231f20"/>
<path d="M292.64 320.40L296.44 316.60L300.24 320.40L296.44 324.20Z" fill="#231f20"/>
<path d="M305.98 324.76L309.78 320.96L313.58 324.76L309.78 328.56Z" fill="#231f20"/>
<path d="M319.32 332.66L323.12 328.86L326.93 332.66L323.12 336.46Z" fill="#231f20"/>
<path d="M332.67 335.65L336.47 331.85L340.27 335.65L336.47 339.45Z" fill="#231f20"/>
<path d="M346.01 322.85L349.81 319.05L353.61 322.85L349.81 326.65Z" fill="#231f20"/>
<path d="M359.35 298.20L363.15 294.40L366.95 298.20L363.15 302.00Z" fill="#231f20"/>
<path d="M372.69 303.24L376.49 299.44L380.29 303.24L376.49 307.04Z" fill="#231f20"/>
<path d="M386.03 285.67L389.83 281.87L393.63 285.67L389.83 289.47Z" fill="#231f20"/>
<path d="M399.38 288.80L403.18 285.00L406.98 288.80L403.18 292.60Z" fill="#231f20"/>
<path d="M412.72 299.70L416.52 295.90L420.32 299.70L416.52 303.50Z" fill="#231f20"/>
<path d="M426.06 294.38L429.86 290.58L433.66 294.38L429.86 298.18Z" fill="#231f20"/>
<polyline points="283.10,314.41 296.44,314.41 309.78,322.31 323.12,323.26 336.47,314.41 349.81,318.49 363.15,272.46 376.49,260.47 389.83,248.76 403.18,267.83 416.52,279.68 429.86,283.49 443.20,313.59" fill="none" stroke="#e9282f" stroke-width="2.3" stroke-linejoin="miter"/>
<rect x="279.40" y="310.71" width="7.4" height="7.4" fill="#e9282f" stroke="#4a0a0c" stroke-width="0.9"/>
<rect x="292.74" y="310.71" width="7.4" height="7.4" fill="#e9282f" stroke="#4a0a0c" stroke-width="0.9"/>
<rect x="306.08" y="318.61" width="7.4" height="7.4" fill="#e9282f" stroke="#4a0a0c" stroke-width="0.9"/>
<rect x="319.43" y="319.56" width="7.4" height="7.4" fill="#e9282f" stroke="#4a0a0c" stroke-width="0.9"/>
<rect x="332.77" y="310.71" width="7.4" height="7.4" fill="#e9282f" stroke="#4a0a0c" stroke-width="0.9"/>
<rect x="346.11" y="314.79" width="7.4" height="7.4" fill="#e9282f" stroke="#4a0a0c" stroke-width="0.9"/>
<rect x="359.45" y="268.76" width="7.4" height="7.4" fill="#e9282f" stroke="#4a0a0c" stroke-width="0.9"/>
<rect x="372.79" y="256.77" width="7.4" height="7.4" fill="#e9282f" stroke="#4a0a0c" stroke-width="0.9"/>
<rect x="386.13" y="245.06" width="7.4" height="7.4" fill="#e9282f" stroke="#4a0a0c" stroke-width="0.9"/>
<rect x="399.48" y="264.13" width="7.4" height="7.4" fill="#e9282f" stroke="#4a0a0c" stroke-width="0.9"/>
<rect x="412.82" y="275.98" width="7.4" height="7.4" fill="#e9282f" stroke="#4a0a0c" stroke-width="0.9"/>
<rect x="426.16" y="279.79" width="7.4" height="7.4" fill="#e9282f" stroke="#4a0a0c" stroke-width="0.9"/>
<text x="365.00" y="218.10" font-size="11.9" text-anchor="middle" fill="#231f20" font-weight="normal" >Post 3 day</text>
<text transform="translate(247.10 297.00) rotate(-90)" font-size="11.9" text-anchor="middle" fill="#231f20">SBP (mm Hg)</text>
<text x="238.90" y="218.60" font-size="16.5" text-anchor="start" fill="#231f20" font-weight="bold" >d</text>
<line x1="518.20" y1="338.14" x2="678.60" y2="338.14" stroke="#4a4a4a" stroke-width="1.2" />
<line x1="518.20" y1="310.78" x2="678.60" y2="310.78" stroke="#4a4a4a" stroke-width="1.2" />
<line x1="518.20" y1="283.42" x2="678.60" y2="283.42" stroke="#4a4a4a" stroke-width="1.2" />
<line x1="518.20" y1="256.06" x2="678.60" y2="256.06" stroke="#4a4a4a" stroke-width="1.2" />
<line x1="518.20" y1="228.70" x2="678.60" y2="228.70" stroke="#4a4a4a" stroke-width="1.2" />
<line x1="518.20" y1="228.70" x2="518.20" y2="365.50" stroke="#858585" stroke-width="1.8" />
<line x1="518.20" y1="365.50" x2="678.60" y2="365.50" stroke="#858585" stroke-width="1.5" />
<line x1="515.00" y1="365.50" x2="518.20" y2="365.50" stroke="#858585" stroke-width="1.3" />
<text x="510.90" y="369.40" font-size="11.3" text-anchor="end" fill="#231f20" font-weight="normal" >95</text>
<line x1="515.00" y1="338.14" x2="518.20" y2="338.14" stroke="#858585" stroke-width="1.3" />
<text x="510.90" y="342.04" font-size="11.3" text-anchor="end" fill="#231f20" font-weight="normal" >105</text>
<line x1="515.00" y1="310.78" x2="518.20" y2="310.78" stroke="#858585" stroke-width="1.3" />
<text x="510.90" y="314.68" font-size="11.3" text-anchor="end" fill="#231f20" font-weight="normal" >115</text>
<line x1="515.00" y1="283.42" x2="518.20" y2="283.42" stroke="#858585" stroke-width="1.3" />
<text x="510.90" y="287.32" font-size="11.3" text-anchor="end" fill="#231f20" font-weight="normal" >125</text>
<line x1="515.00" y1="256.06" x2="518.20" y2="256.06" stroke="#858585" stroke-width="1.3" />
<text x="510.90" y="259.96" font-size="11.3" text-anchor="end" fill="#231f20" font-weight="normal" >135</text>
<line x1="515.00" y1="228.70" x2="518.20" y2="228.70" stroke="#858585" stroke-width="1.3" />
<text x="510.90" y="232.60" font-size="11.3" text-anchor="end" fill="#231f20" font-weight="normal" >145</text>
<line x1="518.20" y1="365.50" x2="518.20" y2="368.50" stroke="#858585" stroke-width="1.3" />
<text x="518.20" y="381.50" font-size="11.3" text-anchor="middle" fill="#231f20" font-weight="normal" >0</text>
<line x1="544.93" y1="365.50" x2="544.93" y2="368.50" stroke="#858585" stroke-width="1.3" />
<text x="544.93" y="381.50" font-size="11.3" text-anchor="middle" fill="#231f20" font-weight="normal" >4</text>
<line x1="571.67" y1="365.50" x2="571.67" y2="368.50" stroke="#858585" stroke-width="1.3" />
<text x="571.67" y="381.50" font-size="11.3" text-anchor="middle" fill="#231f20" font-weight="normal" >8</text>
<line x1="598.40" y1="365.50" x2="598.40" y2="368.50" stroke="#858585" stroke-width="1.3" />
<text x="598.40" y="381.50" font-size="11.3" text-anchor="middle" fill="#231f20" font-weight="normal" >12</text>
<line x1="625.13" y1="365.50" x2="625.13" y2="368.50" stroke="#858585" stroke-width="1.3" />
<text x="625.13" y="381.50" font-size="11.3" text-anchor="middle" fill="#231f20" font-weight="normal" >16</text>
<line x1="651.87" y1="365.50" x2="651.87" y2="368.50" stroke="#858585" stroke-width="1.3" />
<text x="651.87" y="381.50" font-size="11.3" text-anchor="middle" fill="#231f20" font-weight="normal" >20</text>
<line x1="678.60" y1="365.50" x2="678.60" y2="368.50" stroke="#858585" stroke-width="1.3" />
<text x="678.60" y="381.50" font-size="11.3" text-anchor="middle" fill="#231f20" font-weight="normal" >24</text>
<rect x="518.20" y="228.70" width="51.4" height="27.36" fill="#fff" stroke="#231f20" stroke-width="1.1"/>
<line x1="522.70" y1="237.00" x2="545.00" y2="237.00" stroke="#231f20" stroke-width="2" />
<path d="M530.10 237.00L533.70 233.40L537.30 237.00L533.70 240.60Z" fill="#231f20"/>
<line x1="522.70" y1="249.00" x2="545.00" y2="249.00" stroke="#e9282f" stroke-width="2" />
<rect x="530.10" y="245.40" width="7.2" height="7.2" fill="#e9282f" stroke="#4a0a0c" stroke-width="0.9"/>
<text x="548.20" y="241.00" font-size="11.7" text-anchor="start" fill="#231f20" font-weight="normal" >WT</text>
<text x="548.20" y="252.90" font-size="11.7" text-anchor="start" fill="#231f20" font-weight="normal" >KO</text>
<line x1="518.20" y1="329.93" x2="518.20" y2="352.50" stroke="#231f20" stroke-width="1.8" />
<line x1="515.95" y1="329.93" x2="520.45" y2="329.93" stroke="#231f20" stroke-width="1.8" />
<line x1="515.95" y1="352.50" x2="520.45" y2="352.50" stroke="#231f20" stroke-width="1.8" />
<line x1="531.57" y1="316.53" x2="531.57" y2="330.21" stroke="#231f20" stroke-width="1.8" />
<line x1="529.32" y1="316.53" x2="533.82" y2="316.53" stroke="#231f20" stroke-width="1.8" />
<line x1="529.32" y1="330.21" x2="533.82" y2="330.21" stroke="#231f20" stroke-width="1.8" />
<line x1="544.93" y1="332.80" x2="544.93" y2="350.86" stroke="#231f20" stroke-width="1.8" />
<line x1="542.68" y1="332.80" x2="547.18" y2="332.80" stroke="#231f20" stroke-width="1.8" />
<line x1="542.68" y1="350.86" x2="547.18" y2="350.86" stroke="#231f20" stroke-width="1.8" />
<line x1="558.30" y1="334.58" x2="558.30" y2="361.26" stroke="#231f20" stroke-width="1.8" />
<line x1="556.05" y1="334.58" x2="560.55" y2="334.58" stroke="#231f20" stroke-width="1.8" />
<line x1="556.05" y1="361.26" x2="560.55" y2="361.26" stroke="#231f20" stroke-width="1.8" />
<line x1="571.67" y1="332.39" x2="571.67" y2="362.49" stroke="#231f20" stroke-width="1.8" />
<line x1="569.42" y1="332.39" x2="573.92" y2="332.39" stroke="#231f20" stroke-width="1.8" />
<line x1="569.42" y1="362.49" x2="573.92" y2="362.49" stroke="#231f20" stroke-width="1.8" />
<line x1="585.03" y1="332.39" x2="585.03" y2="359.75" stroke="#231f20" stroke-width="1.8" />
<line x1="582.78" y1="332.39" x2="587.28" y2="332.39" stroke="#231f20" stroke-width="1.8" />
<line x1="582.78" y1="359.75" x2="587.28" y2="359.75" stroke="#231f20" stroke-width="1.8" />
<line x1="598.40" y1="314.34" x2="598.40" y2="331.03" stroke="#231f20" stroke-width="1.8" />
<line x1="596.15" y1="314.34" x2="600.65" y2="314.34" stroke="#231f20" stroke-width="1.8" />
<line x1="596.15" y1="331.03" x2="600.65" y2="331.03" stroke="#231f20" stroke-width="1.8" />
<line x1="611.77" y1="316.94" x2="611.77" y2="355.92" stroke="#231f20" stroke-width="1.8" />
<line x1="609.52" y1="316.94" x2="614.02" y2="316.94" stroke="#231f20" stroke-width="1.8" />
<line x1="609.52" y1="355.92" x2="614.02" y2="355.92" stroke="#231f20" stroke-width="1.8" />
<line x1="625.13" y1="286.70" x2="625.13" y2="346.07" stroke="#231f20" stroke-width="1.8" />
<line x1="622.88" y1="286.70" x2="627.38" y2="286.70" stroke="#231f20" stroke-width="1.8" />
<line x1="622.88" y1="346.07" x2="627.38" y2="346.07" stroke="#231f20" stroke-width="1.8" />
<line x1="638.50" y1="315.43" x2="638.50" y2="343.61" stroke="#231f20" stroke-width="1.8" />
<line x1="636.25" y1="315.43" x2="640.75" y2="315.43" stroke="#231f20" stroke-width="1.8" />
<line x1="636.25" y1="343.61" x2="640.75" y2="343.61" stroke="#231f20" stroke-width="1.8" />
<line x1="651.87" y1="303.12" x2="651.87" y2="357.84" stroke="#231f20" stroke-width="1.8" />
<line x1="649.62" y1="303.12" x2="654.12" y2="303.12" stroke="#231f20" stroke-width="1.8" />
<line x1="649.62" y1="357.84" x2="654.12" y2="357.84" stroke="#231f20" stroke-width="1.8" />
<line x1="665.23" y1="300.11" x2="665.23" y2="333.08" stroke="#231f20" stroke-width="1.8" />
<line x1="662.98" y1="300.11" x2="667.48" y2="300.11" stroke="#231f20" stroke-width="1.8" />
<line x1="662.98" y1="333.08" x2="667.48" y2="333.08" stroke="#231f20" stroke-width="1.8" />
<line x1="518.20" y1="306.13" x2="518.20" y2="317.35" stroke="#e9282f" stroke-width="1.8" />
<line x1="515.95" y1="306.13" x2="520.45" y2="306.13" stroke="#e9282f" stroke-width="1.8" />
<line x1="515.95" y1="317.35" x2="520.45" y2="317.35" stroke="#e9282f" stroke-width="1.8" />
<line x1="544.93" y1="311.60" x2="544.93" y2="328.29" stroke="#e9282f" stroke-width="1.8" />
<line x1="542.68" y1="311.60" x2="547.18" y2="311.60" stroke="#e9282f" stroke-width="1.8" />
<line x1="542.68" y1="328.29" x2="547.18" y2="328.29" stroke="#e9282f" stroke-width="1.8" />
<line x1="625.13" y1="246.62" x2="625.13" y2="254.42" stroke="#e9282f" stroke-width="1.8" />
<line x1="622.88" y1="246.62" x2="627.38" y2="246.62" stroke="#e9282f" stroke-width="1.8" />
<line x1="622.88" y1="254.42" x2="627.38" y2="254.42" stroke="#e9282f" stroke-width="1.8" />
<line x1="638.50" y1="264.27" x2="638.50" y2="308.32" stroke="#e9282f" stroke-width="1.8" />
<line x1="636.25" y1="264.27" x2="640.75" y2="264.27" stroke="#e9282f" stroke-width="1.8" />
<line x1="636.25" y1="308.32" x2="640.75" y2="308.32" stroke="#e9282f" stroke-width="1.8" />
<line x1="665.23" y1="266.73" x2="665.23" y2="272.75" stroke="#e9282f" stroke-width="1.8" />
<line x1="662.98" y1="266.73" x2="667.48" y2="266.73" stroke="#e9282f" stroke-width="1.8" />
<line x1="662.98" y1="272.75" x2="667.48" y2="272.75" stroke="#e9282f" stroke-width="1.8" />
<polyline points="518.20,329.93 531.57,316.53 544.93,341.15 558.30,348.95 571.67,347.03 585.03,345.80 598.40,322.82 611.77,336.50 625.13,315.98 638.50,315.43 651.87,331.03 665.23,315.43 678.60,330.48" fill="none" stroke="#231f20" stroke-width="2.6" stroke-linejoin="miter"/>
<path d="M514.40 329.93L518.20 326.13L522.00 329.93L518.20 333.73Z" fill="#231f20"/>
<path d="M527.77 316.53L531.57 312.73L535.37 316.53L531.57 320.33Z" fill="#231f20"/>
<path d="M541.13 341.15L544.93 337.35L548.73 341.15L544.93 344.95Z" fill="#231f20"/>
<path d="M554.50 348.95L558.30 345.15L562.10 348.95L558.30 352.75Z" fill="#231f20"/>
<path d="M567.87 347.03L571.67 343.23L575.47 347.03L571.67 350.83Z" fill="#231f20"/>
<path d="M581.23 345.80L585.03 342.00L588.83 345.80L585.03 349.60Z" fill="#231f20"/>
<path d="M594.60 322.82L598.40 319.02L602.20 322.82L598.40 326.62Z" fill="#231f20"/>
<path d="M607.97 336.50L611.77 332.70L615.57 336.50L611.77 340.30Z" fill="#231f20"/>
<path d="M621.33 315.98L625.13 312.18L628.93 315.98L625.13 319.78Z" fill="#231f20"/>
<path d="M634.70 315.43L638.50 311.63L642.30 315.43L638.50 319.23Z" fill="#231f20"/>
<path d="M648.07 331.03L651.87 327.23L655.67 331.03L651.87 334.83Z" fill="#231f20"/>
<path d="M661.43 315.43L665.23 311.63L669.03 315.43L665.23 319.23Z" fill="#231f20"/>
<polyline points="518.20,311.87 531.57,307.50 544.93,319.81 558.30,321.04 571.67,315.70 585.03,319.81 598.40,263.17 611.77,287.25 625.13,254.42 638.50,286.16 651.87,288.07 665.23,272.75 678.60,313.24" fill="none" stroke="#e9282f" stroke-width="2.3" stroke-linejoin="miter"/>
<rect x="514.50" y="308.17" width="7.4" height="7.4" fill="#e9282f" stroke="#4a0a0c" stroke-width="0.9"/>
<rect x="527.87" y="303.80" width="7.4" height="7.4" fill="#e9282f" stroke="#4a0a0c" stroke-width="0.9"/>
<rect x="541.23" y="316.11" width="7.4" height="7.4" fill="#e9282f" stroke="#4a0a0c" stroke-width="0.9"/>
<rect x="554.60" y="317.34" width="7.4" height="7.4" fill="#e9282f" stroke="#4a0a0c" stroke-width="0.9"/>
<rect x="567.97" y="312.00" width="7.4" height="7.4" fill="#e9282f" stroke="#4a0a0c" stroke-width="0.9"/>
<rect x="581.33" y="316.11" width="7.4" height="7.4" fill="#e9282f" stroke="#4a0a0c" stroke-width="0.9"/>
<rect x="594.70" y="259.47" width="7.4" height="7.4" fill="#e9282f" stroke="#4a0a0c" stroke-width="0.9"/>
<rect x="608.07" y="283.55" width="7.4" height="7.4" fill="#e9282f" stroke="#4a0a0c" stroke-width="0.9"/>
<rect x="621.43" y="250.72" width="7.4" height="7.4" fill="#e9282f" stroke="#4a0a0c" stroke-width="0.9"/>
<rect x="634.80" y="282.46" width="7.4" height="7.4" fill="#e9282f" stroke="#4a0a0c" stroke-width="0.9"/>
<rect x="648.17" y="284.37" width="7.4" height="7.4" fill="#e9282f" stroke="#4a0a0c" stroke-width="0.9"/>
<rect x="661.53" y="269.05" width="7.4" height="7.4" fill="#e9282f" stroke="#4a0a0c" stroke-width="0.9"/>
<text x="593.00" y="218.10" font-size="11.9" text-anchor="middle" fill="#231f20" font-weight="normal" >Post 15 day</text>
<text transform="translate(482.20 297.80) rotate(-90)" font-size="11.9" text-anchor="middle" fill="#231f20">SBP (mm Hg)</text>
<text x="470.00" y="218.60" font-size="16.5" text-anchor="start" fill="#231f20" font-weight="bold" >e</text>
<line x1="596.40" y1="245.60" x2="628.10" y2="245.60" stroke="#231f20" stroke-width="2.1" />
<text x="612.40" y="243.14" font-size="11" text-anchor="middle" fill="#231f20" font-weight="normal" style="stroke-width:0.3px">*</text>
<rect x="45.2" y="391.1" width="81.6" height="14.8" fill="#fff" stroke="#231f20" stroke-width="2"/>
<rect x="126.8" y="390.1" width="79.0" height="16.8" fill="#231f20"/>
<text x="85.60" y="402.80" font-size="12.0" text-anchor="middle" fill="#231f20" font-weight="normal" >Light</text>
<text x="163.60" y="402.80" font-size="12.0" text-anchor="middle" fill="#dedede" font-weight="normal" style="stroke:#dedede;stroke-width:0.15px">Dark</text>
<text x="45.70" y="418.70" font-size="11.4" text-anchor="middle" fill="#231f20" font-weight="normal" >8:00</text>
<text x="126.00" y="418.70" font-size="11.4" text-anchor="middle" fill="#231f20" font-weight="normal" >20:00</text>
<text x="205.40" y="418.70" font-size="11.4" text-anchor="middle" fill="#231f20" font-weight="normal" >8:00</text>
</g>
</svg>
</body></html>
